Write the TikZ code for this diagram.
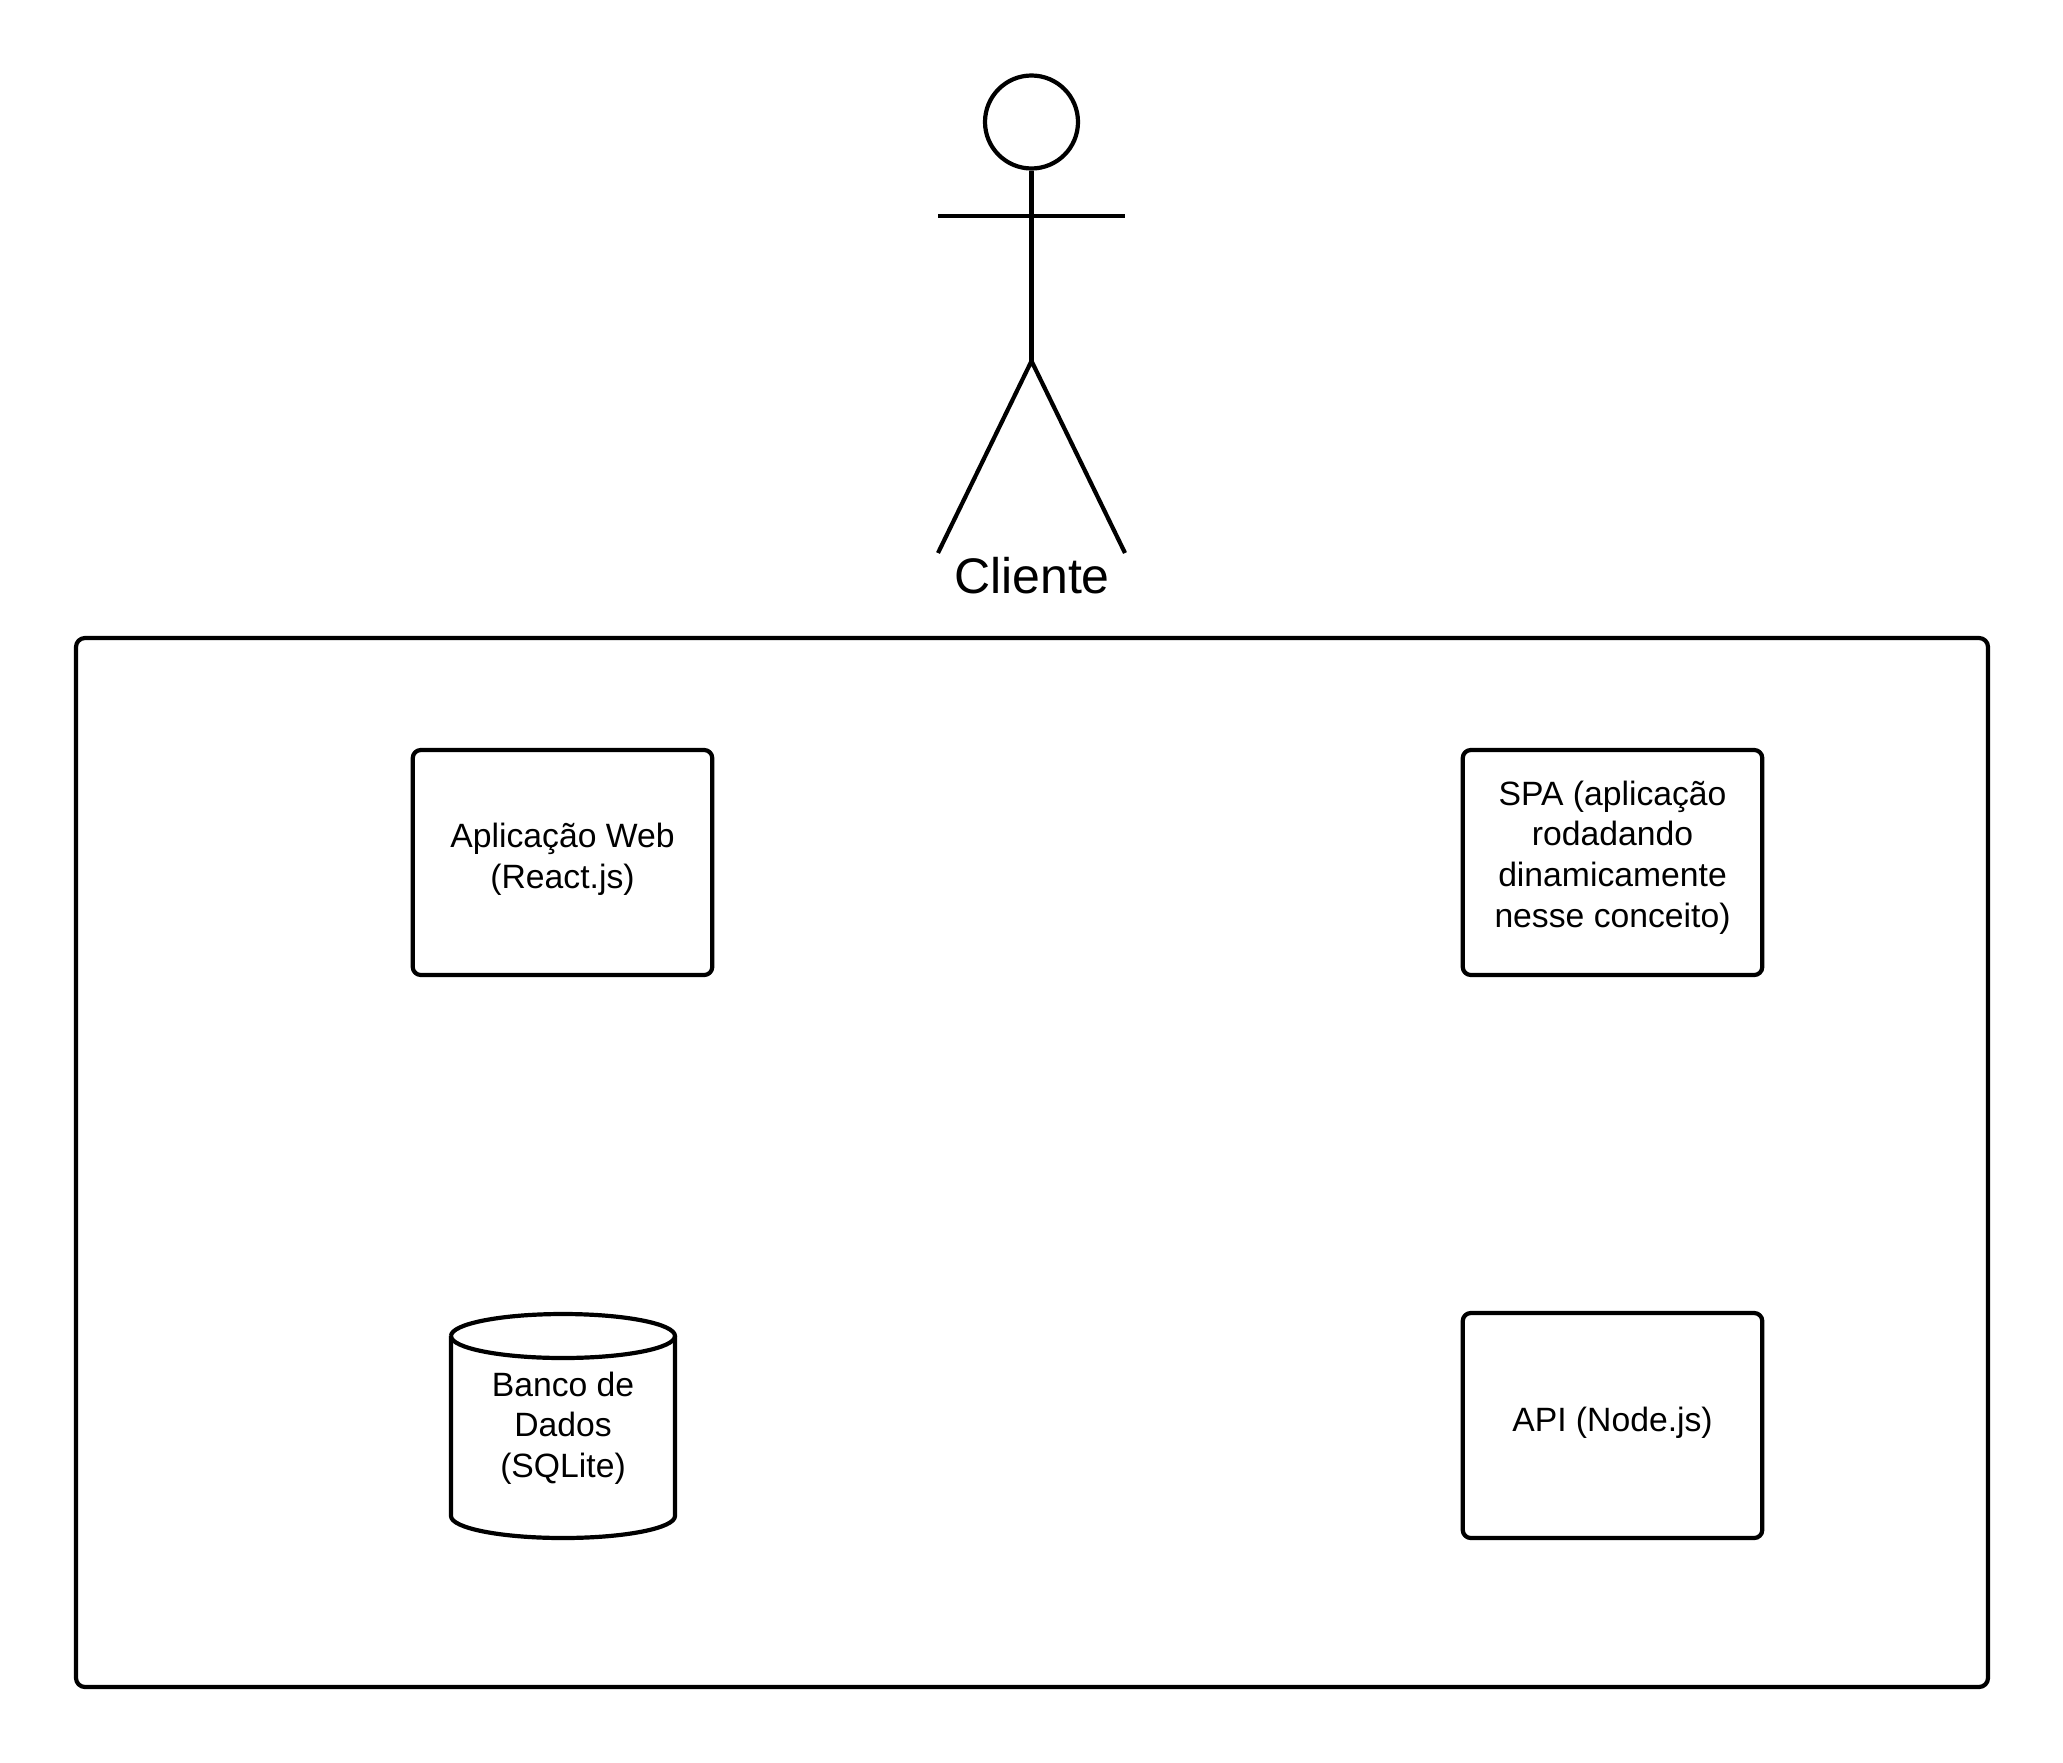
\documentclass[tikz,border=0pt]{standalone}
\usepackage{fontspec}
\setmainfont{Liberation Sans}
\tikzset{
  ink/.style={line width=4.2pt,black,line join=round},
  boxshape/.style={ink,draw,rounded corners=8pt,minimum width=299.5pt,minimum height=225pt,inner sep=0pt},
  lbl/.style={align=center,inner sep=0pt,font=\fontsize{33.7}{40.6}\selectfont},
}
\begin{document}
\begin{tikzpicture}[x=1pt,y=-1pt]
\useasboundingbox (0,0) rectangle (2063,1763);
\fill[white] (0,0) rectangle (2063,1763);
% frame
\node[boxshape,minimum width=1912pt,minimum height=1049pt,rounded corners=9pt] (frame) at (1032,1162.5) {};
% actor
\node[ink,draw,circle,minimum size=93pt,inner sep=0pt] (head) at (1031.5,122) {};
\coordinate (hipc) at (1031.5,361);
\coordinate (armL) at (938,216);
\coordinate (armR) at (1125,216);
\coordinate (legL) at (938,553);
\coordinate (legR) at (1125,553);
\draw[ink] (head.south) -- (hipc);
\draw[ink] (armL) -- (armR);
\draw[ink] (legL) -- (hipc) -- (legR);
\node[inner sep=0pt,font=\fontsize{50}{60}\selectfont,anchor=base] (cliente) at (1032,593) {Cliente};
% boxes
\node[boxshape] (web) at (562.5,862.5) {};
\node[lbl] (webt) at (562.5,859) {Aplicação Web\\(React.js)};
\node[boxshape] (spa) at (1612.5,862.5) {};
\node[lbl] (spat) at (1612.5,857.5) {SPA (aplicação\\rodadando\\dinamicamente\\nesse conceito)};
\node[boxshape] (api) at (1612.5,1425.5) {};
\node[lbl] (apit) at (1612.5,1423) {API (Node.js)};
% cylinder
\draw[ink] (451,1336) arc[start angle=180,end angle=540,x radius=112,y radius=22];
\draw[ink] (451,1336) -- (451,1516) arc[start angle=180,end angle=360,x radius=112,y radius=-22] -- (675,1336);
\node[lbl] (dbt) at (563,1428) {Banco de\\Dados\\(SQLite)};
\end{tikzpicture}
\end{document}
